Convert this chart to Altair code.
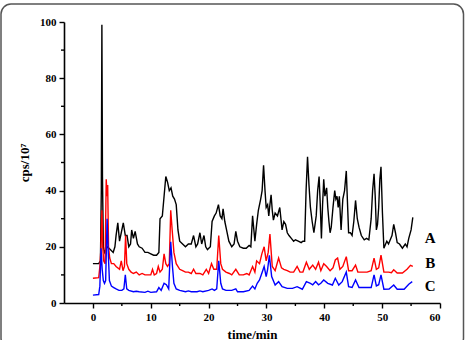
import altair as alt
import pandas as pd

# (time/min, cps/10^7)
series_a = [(0,14),(1.0,14),(1.3,15),(1.45,40),(1.55,99),(1.65,45),(1.8,20),(2.0,18),(2.5,20),(3.0,19),
            (3.5,18),(3.8,20),(4.0,24),(4.3,28.5),(4.6,22),(4.9,25),(5.25,28.5),(5.6,24),(5.9,24),(6.2,20),
            (6.5,21),(6.7,26),(7.0,23),(7.3,25.5),(7.7,21),(8.0,20),(8.5,19.5),(9.0,18),(9.5,18),(10.0,17.5),
            (10.5,17),(11.0,17),(11.4,18),(11.6,30),(12.0,31),(12.3,38),(12.6,45),(12.9,43),(13.2,40),(13.5,41),
            (13.8,38),(14.1,37),(14.4,35),(14.7,26),(15.0,22),(15.5,21),(16.0,20),(16.5,21),(17.0,21),(17.4,24),
            (17.8,20),(18.1,21),(18.5,25),(18.8,21),(19.2,24),(19.5,20),(19.8,19),(20.3,20),(20.6,29),(21.0,31),
            (21.3,32),(21.7,35),(22.0,31),(22.3,30),(22.5,33.5),(22.8,29),(23.1,26),(23.5,22),(24.0,20),(24.4,21),
            (24.7,25.5),(25.0,22),(25.4,20),(26.0,19.5),(26.5,19.5),(27.0,20.5),(27.3,20),(27.6,31),(28.0,22),(28.3,28),
            (28.6,33),(29.0,37),(29.25,40),(29.5,49),(29.75,40),(29.95,34),(30.2,35),(30.4,31),(30.6,35),(30.8,38.5),
            (31.0,33),(31.2,29.5),(31.5,32),(31.9,31),(32.3,34),(32.7,26),(33.0,29),(33.3,28),(33.6,25),(33.9,24),
            (34.3,23),(34.7,22),(35.0,22.5),(35.5,22),(36.0,21.5),(36.3,22),(36.6,22),(36.85,40),(37.1,52),(37.35,42),
            (37.6,34),(37.9,29),(38.2,25),(38.6,31),(38.85,40),(39.1,45),(39.3,35),(39.5,23),(39.7,35),(39.9,44),
            (40.1,38),(40.4,41),(40.6,34),(40.8,29),(41.0,25),(41.2,27),(41.5,34),(41.8,40),(42.0,37),(42.2,38),
            (42.4,34),(42.6,38),(42.9,26),(43.2,37),(43.5,40),(43.8,47),(44.0,36),(44.2,25),(44.5,25),(44.8,24),
            (45.1,29),(45.4,36.5),(45.7,30),(46.0,27),(46.4,24),(46.9,22.5),(47.3,23),(47.7,22.5),(48.1,30),(48.35,40),
            (48.6,46),(48.8,38),(49.0,26),(49.2,28),(49.4,34),(49.6,44),(49.8,48.5),(50.05,32),(50.3,19.5),(50.6,21),
            (50.8,22),(51.1,21),(51.4,22.5),(51.7,24),(52.0,28),(52.3,25),(52.6,21.5),(53.0,21),(53.5,19.5),(54.0,21),
            (54.3,20),(54.6,23),(55.0,26),(55.3,30.5)]

series_b = [(0,8.8),(1.0,9),(1.2,13),(1.4,20),(1.55,33),(1.7,20),(1.85,15),(2.1,14),(2.3,44),(2.45,38),
            (2.55,42),(2.7,20),(2.9,16),(3.2,14),(3.6,14),(4.0,13),(4.6,12),(4.9,15),(5.2,11.5),(5.45,13),
            (5.65,24),(5.85,14),(6.2,12),(6.6,11),(7.0,10.5),(7.5,11),(8.0,10),(8.5,10.5),(9.0,10),(9.5,10),
            (10.0,10),(10.3,12),(10.6,10),(11.0,10.5),(11.3,13),(11.6,11),(12.0,12),(12.3,17.5),(12.6,14),(12.9,13),
            (13.2,14),(13.45,33),(13.7,26),(14.0,18),(14.4,14),(15.0,12),(15.5,11.5),(16.0,11),(16.5,11),(17.0,10.5),
            (17.4,12),(17.8,10.5),(18.5,10.5),(19.0,10),(19.6,12),(20.0,10.5),(20.5,14),(20.9,12),(21.4,12),(21.75,24),
            (22.1,14),(22.4,12),(23.0,11),(23.6,10.5),(24.0,10),(24.7,12),(25.3,10),(26.0,10),(26.6,10.5),(27.0,10),
            (27.6,13),(28.0,11),(28.3,15),(28.8,14),(29.2,17.5),(29.6,20),(29.95,15),(30.3,18),(30.6,24.5),(31.0,13),
            (31.5,11.5),(32.1,16),(32.6,12.5),(33.0,12),(33.6,11.5),(34.1,11),(34.7,11),(35.3,13),(35.8,11),(36.3,11),
            (36.9,14.5),(37.4,12),(38.0,13.5),(38.5,12),(39.0,14.5),(39.4,11.5),(39.9,14),(40.4,13),(41.0,11.5),(41.5,12.5),
            (41.9,15.3),(42.3,16),(42.7,12),(43.2,13),(43.8,16.5),(44.2,11.5),(44.8,11.5),(45.4,13.5),(45.8,11),(46.5,11),
            (47.4,11),(48.1,11.5),(48.6,16),(49.0,12),(49.4,12.5),(49.8,17),(50.3,11),(51.1,11),(51.6,10.8),(52.0,11.8),
            (52.6,10.7),(53.5,10.7),(54.3,12),(54.9,13.4),(55.3,13)]

series_c = [(0,2.8),(1.0,3),(1.2,6),(1.4,19.5),(1.6,12),(1.8,8),(2.0,7),(2.2,8),(2.45,30),(2.65,18),
            (2.85,8),(3.2,6),(3.6,5.5),(4.0,5),(4.5,4.5),(5.0,4.5),(5.35,5),(5.6,10),(5.85,5),(6.2,4.5),
            (7.0,4),(7.5,4.2),(8.0,4),(9.0,3.8),(9.5,4.2),(10.0,3.8),(11.0,4),(11.4,5.5),(11.8,4.5),(12.3,7),
            (12.7,6.5),(13.1,5),(13.45,21.8),(13.75,13),(14.0,7),(14.4,5),(15.0,4.5),(16.0,4),(16.5,4.3),(17.0,4),
            (18.0,4),(18.5,4.3),(19.0,4),(20.0,4.5),(20.6,5),(21.0,4.5),(21.4,5),(21.75,15),(22.1,7),(22.4,5),
            (23.0,4.5),(24.0,4.5),(24.7,5),(25.0,4),(26.0,4),(27.0,4.5),(27.6,6),(28.0,5),(28.4,7),(28.8,8.2),
            (29.2,10.6),(29.6,13),(29.95,9.4),(30.2,12),(30.5,17),(30.9,9.4),(31.5,6.4),(32.1,7.6),(32.7,5.8),(33.6,5.2),
            (34.5,5.2),(35.3,5.8),(36.2,4.9),(36.9,7.6),(37.6,7),(38.0,6.5),(38.5,7.6),(39.0,6.5),(39.4,7),(39.9,8.2),
            (40.6,7),(41.4,6.4),(41.9,8.8),(42.5,6.4),(43.1,7.6),(43.8,11),(44.2,5.8),(44.8,5.5),(45.4,8.2),(46.0,5.5),
            (47.4,5.5),(48.1,5.5),(48.6,10),(49.0,6.1),(49.4,6.5),(49.8,10),(50.3,4.9),(51.2,5),(52.0,6.4),(52.6,4.9),
            (53.8,4.9),(54.6,6.7),(55.2,7.6)]

series_names = ["A", "B", "C"]
series_colors = ["#000000", "#ff0000", "#0000ff"]
label_time = [58.3, 58.3, 58.3]
label_values = [23.3, 14.2, 6.2]
x_major = [0, 10, 20, 30, 40, 50, 60]
x_minor = [5, 15, 25, 35, 45, 55]
y_major = [0, 20, 40, 60, 80, 100]
y_minor = [10, 30, 50, 70, 90]

rows = []
for name, pts in zip(series_names, [series_a, series_b, series_c]):
    for i, (t, v) in enumerate(pts):
        rows.append({"series": name, "time": t, "cps": v, "idx": i})
df = pd.DataFrame(rows)

W, H = 376, 281
FONT = "Liberation Serif"
xscale = alt.Scale(domain=[-5, 60], nice=False, zero=False)
yscale = alt.Scale(domain=[0, 100], nice=False)
xaxis = alt.Axis(values=x_major, title="time/min", format="d", titlePadding=6)
yaxis = alt.Axis(values=y_major, title="cps/10⁷", format="d", titlePadding=8)

lines = alt.Chart(df).mark_line(strokeWidth=1.4).encode(
    x=alt.X("time:Q", scale=xscale, axis=xaxis),
    y=alt.Y("cps:Q", scale=yscale, axis=yaxis),
    color=alt.Color("series:N", scale=alt.Scale(domain=series_names, range=series_colors), legend=None),
    order=alt.Order("idx:Q"),
)

xminor = alt.Chart(pd.DataFrame({"time": x_minor})).mark_rule(color="black", strokeWidth=1.4).encode(
    x=alt.X("time:Q", scale=xscale, axis=xaxis),
    y=alt.value(H), y2=alt.value(H + 3),
)
yminor = alt.Chart(pd.DataFrame({"cps": y_minor})).mark_rule(color="black", strokeWidth=1.4).encode(
    y=alt.Y("cps:Q", scale=yscale, axis=yaxis),
    x=alt.value(0), x2=alt.value(-3),
)

labels = alt.Chart(pd.DataFrame({"name": series_names, "time": label_time, "cps": label_values})).mark_text(
    font=FONT, fontWeight="bold", fontSize=15, color="black", align="center", baseline="middle"
).encode(
    x=alt.X("time:Q", scale=xscale, axis=xaxis),
    y=alt.Y("cps:Q", scale=yscale, axis=yaxis),
    text="name:N",
)

frame = alt.Chart(pd.DataFrame({"a": [0]})).mark_rect(
    filled=False, stroke="#555555", strokeWidth=1.5, cornerRadius=10
).encode(
    x=alt.value(-63), x2=alt.value(W + 23.5), y=alt.value(-18), y2=alt.value(H + 45)
)

chart = alt.layer(frame, lines, xminor, yminor, labels).properties(
    width=W, height=H,
    autosize=alt.AutoSizeParams(type="none"),
    padding={"left": 64, "top": 22, "right": 25, "bottom": 37},
    background="white",
).configure_view(stroke=None).configure_axis(
    grid=False,
    domainColor="black", domainWidth=1.6,
    tickColor="black", tickWidth=1.4, tickSize=5,
    labelFont=FONT, labelFontWeight="bold", labelFontSize=11, labelColor="black", labelPadding=3,
    titleFont=FONT, titleFontWeight="bold", titleFontSize=13, titleColor="black",
)

chart.save("out.html", embed_options={"renderer": "svg", "actions": False})
